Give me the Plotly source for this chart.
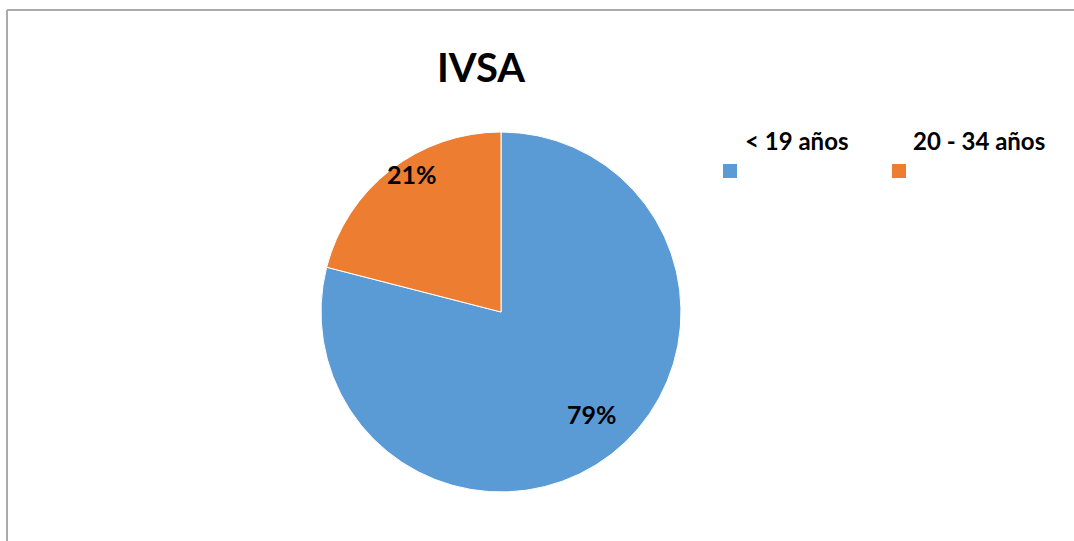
import math
import plotly.graph_objects as go

# Data
title_text = "IVSA"
labels = ["< 19 años", "20 - 34 años"]
values = [79, 21]
colors = ["#5B9BD5", "#ED7D31"]

W, H = 1074, 541
cx, cy, R = 501, 312, 180  # pie centre / radius in pixels

fig = go.Figure(go.Pie(
    labels=labels,
    values=values,
    sort=False,
    direction="clockwise",
    rotation=0,
    marker=dict(colors=colors, line=dict(color="white", width=1)),
    textinfo="none",
    hoverinfo="label+percent",
    showlegend=False,
    domain=dict(x=[(cx - R) / W, (cx + R) / W], y=[1 - (cy + R) / H, 1 - (cy - R) / H]),
))

# percentage labels, placed at slice mid-angles
total = sum(values)
label_frac = [0.76, 0.91]
angle_adj = [-4, 5]
annotations = []
start = 0.0
for i, v in enumerate(values):
    span = 360.0 * v / total
    mid = start + span / 2 + angle_adj[i]
    start += span
    r = R * label_frac[i]
    px = cx + r * math.sin(math.radians(mid))
    py = cy - r * math.cos(math.radians(mid))
    annotations.append(dict(
        x=px / W, y=1 - py / H, xref="paper", yref="paper",
        text=f"{round(100 * v / total)}%", showarrow=False,
        font=dict(family="Lato", size=25, color="black", weight="bold"),
        xanchor="center", yanchor="middle",
    ))

# title
annotations.append(dict(
    x=481 / W, y=1 - 67 / H, xref="paper", yref="paper", text=title_text,
    showarrow=False, xanchor="center", yanchor="middle",
    font=dict(family="Lato", size=40, color="black", weight="bold"),
))

# custom legend: text above coloured square
shapes = []
leg_sq_x = [723, 892]
leg_text_x = [796, 979]
for i, lab in enumerate(labels):
    annotations.append(dict(
        x=leg_text_x[i] / W, y=1 - 141 / H, xref="paper", yref="paper", text=lab,
        showarrow=False, xanchor="center", yanchor="middle",
        font=dict(family="Lato", size=24, color="black", weight="bold"),
    ))
    shapes.append(dict(
        type="rect", xref="paper", yref="paper",
        x0=leg_sq_x[i] / W, x1=(leg_sq_x[i] + 14) / W,
        y0=1 - 178 / H, y1=1 - 164 / H,
        fillcolor=colors[i], line=dict(width=0),
    ))

# chart-area border (left and top edges visible)
shapes.append(dict(type="line", xref="paper", yref="paper",
                   x0=7 / W, x1=1.0, y0=1 - 10 / H, y1=1 - 10 / H,
                   line=dict(color="#ABABAB", width=2)))
shapes.append(dict(type="line", xref="paper", yref="paper",
                   x0=7 / W, x1=7 / W, y0=0, y1=1 - 10 / H,
                   line=dict(color="#ABABAB", width=2)))

fig.update_layout(
    width=W, height=H,
    margin=dict(l=0, r=0, t=0, b=0),
    paper_bgcolor="white", plot_bgcolor="white",
    annotations=annotations, shapes=shapes,
)

fig.write_html(
    "out.html",
    config={"displayModeBar": False},
    post_script="document.body.style.margin='0';document.body.style.overflow='hidden';",
)
